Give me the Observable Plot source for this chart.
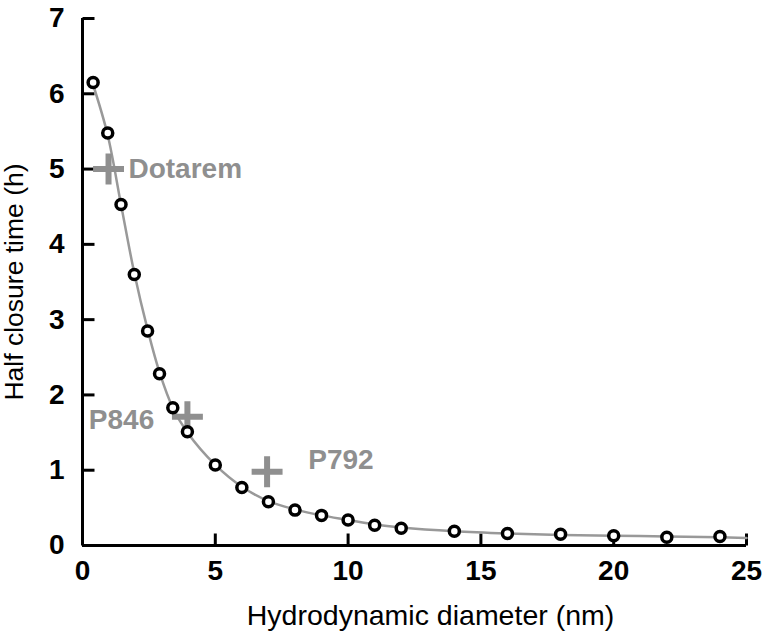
<!DOCTYPE html>
<html>
<head>
<meta charset="utf-8">
<script src="https://cdn.jsdelivr.net/npm/d3@7"></script>
<script src="https://cdn.jsdelivr.net/npm/@observablehq/plot@0.6"></script>
<style>
  html, body { margin: 0; padding: 0; background: #fff; }
  #chart { width: 768px; height: 641px; }
</style>
</head>
<body>
<div id="chart"></div>
<script>
// Measured half closure times vs hydrodynamic diameter
const diameters = [0.4, 0.95, 1.45, 1.95, 2.45, 2.9, 3.4, 3.95, 5, 6, 7, 8, 9, 10, 11, 12, 14, 16, 18, 20, 22, 24];
const halfTimes = [6.15, 5.48, 4.53, 3.6, 2.85, 2.28, 1.83, 1.51, 1.07, 0.77, 0.58, 0.47, 0.4, 0.34, 0.27, 0.23, 0.19, 0.16, 0.15, 0.13, 0.11, 0.12];
// Fitted curve
const fitX = [0.4, 0.95, 1.45, 1.95, 2.45, 2.9, 3.4, 3.95, 5, 6, 7, 8, 9, 10, 11, 12, 14, 16, 18, 20, 22, 24, 25];
const fitY = [6.12, 5.45, 4.53, 3.62, 2.87, 2.3, 1.83, 1.5, 1.07, 0.78, 0.59, 0.48, 0.4, 0.34, 0.28, 0.24, 0.19, 0.16, 0.14, 0.13, 0.12, 0.11, 0.1];
// Contrast agents
const agentNames = ["Dotarem", "P846", "P792"];
const agentX = [0.98, 3.95, 6.95];
const agentY = [5.0, 1.71, 0.98];
const agentLabelX = [1.73, 2.7, 8.5];
const agentLabelY = [5.0, 1.66, 1.14];
const agentAnchor = ["start", "end", "start"];
// Axes
const xTicks = [0, 5, 10, 15, 20, 25];
const yTicks = [0, 1, 2, 3, 4, 5, 6, 7];
const xLabel = "Hydrodynamic diameter (nm)";
const yLabel = "Half closure time (h)";

const points = diameters.map((d, i) => ({x: d, y: halfTimes[i]}));
const fit = fitX.map((d, i) => ({x: d, y: fitY[i]}));
const agents = agentNames.map((n, i) => ({name: n, x: agentX[i], y: agentY[i], lx: agentLabelX[i], ly: agentLabelY[i], anchor: agentAnchor[i]}));

// inward tick glyphs
const tickUp = {draw(ctx) { ctx.moveTo(0, 0); ctx.lineTo(0, -12); }};
const tickRight = {draw(ctx) { ctx.moveTo(0, 0); ctx.lineTo(12, 0); }};

const grey = "#8f8f8f";
const font = "'Liberation Sans', Arial, Helvetica, sans-serif";
const chart = Plot.plot({
  width: 768,
  height: 641,
  marginLeft: 82,
  marginRight: 22,
  marginTop: 18,
  marginBottom: 96,
  style: {fontFamily: font, background: "#fff", color: "#000"},
  x: {domain: [0, 25], axis: null},
  y: {domain: [0, 7], axis: null},
  marks: [
    // inward ticks
    Plot.dot(xTicks, {x: d => d, y: 0, symbol: tickUp, stroke: "black", strokeWidth: 3, fill: "none"}),
    Plot.dot(yTicks, {x: 0, y: d => d, symbol: tickRight, stroke: "black", strokeWidth: 3, fill: "none"}),
    // tick labels
    Plot.text(xTicks, {x: d => d, text: d => String(d), frameAnchor: "bottom", dy: 34, fontSize: 28, fontWeight: "bold", fill: "black"}),
    Plot.text(yTicks, {y: d => d, text: d => String(d), frameAnchor: "left", dx: -18, textAnchor: "end", fontSize: 28, fontWeight: "bold", fill: "black"}),
    Plot.ruleX([0], {stroke: "black", strokeWidth: 3}),
    Plot.ruleY([0], {stroke: "black", strokeWidth: 3}),
    // axis titles
    Plot.text([xLabel], {frameAnchor: "bottom", dx: 16, dy: 79, fontSize: 28.5, fill: "black"}),
    Plot.text([yLabel], {frameAnchor: "left", dx: -68, rotate: -90, textAnchor: "middle", fontSize: 26.5, fill: "black"}),
    // fitted curve
    Plot.line(fit, {x: "x", y: "y", curve: "catmull-rom", stroke: "#999", strokeWidth: 2.5}),
    // agents
    Plot.dot(agents, {x: "x", y: "y", symbol: "plus", r: 10, stroke: grey, strokeWidth: 6}),
    Plot.text(agents, {x: "lx", y: "ly", text: "name", textAnchor: "start", filter: d => d.anchor === "start", fontSize: 28, fontWeight: "bold", fill: grey}),
    Plot.text(agents, {x: "lx", y: "ly", text: "name", textAnchor: "end", filter: d => d.anchor === "end", fontSize: 28, fontWeight: "bold", fill: grey}),
    // measurements
    Plot.dot(points, {x: "x", y: "y", r: 5, stroke: "black", strokeWidth: 3.5, fill: "white"})
  ]
});
document.getElementById("chart").appendChild(chart);
</script>
</body>
</html>
